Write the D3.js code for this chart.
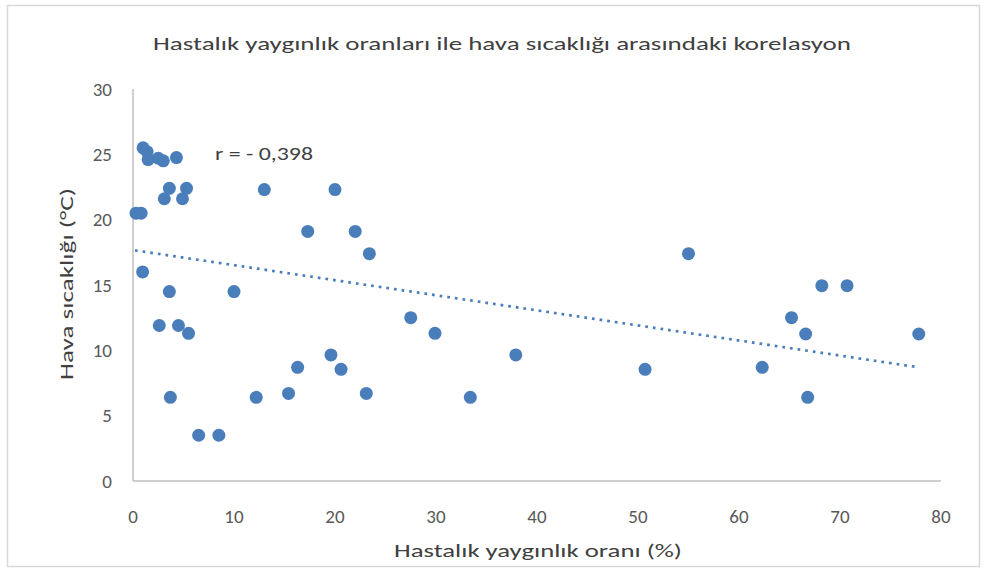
<!DOCTYPE html>
<html lang="tr">
<head>
    <meta charset="UTF-8">
    <title>Hastalık yaygınlık oranları ile hava sıcaklığı</title>
    <script src="https://d3js.org/d3.v7.min.js"></script>
    <style>
        body {
            margin: 0;
            background-color: #fff;
        }
        svg {
            display: block;
            font-family: Carlito, 'Open Sans', sans-serif;
        }
        .axis-line {
            stroke: #bfbfbf;
            stroke-width: 1.5;
        }
        .tick-label {
            font-size: 19px;
            fill: #595959;
        }
        .title, .axis-title, .r-label {
            fill: #404040;
        }
    </style>
</head>
<body>
    <svg width="984" height="572"></svg>

    <script>
        // hastalık yaygınlık oranı (%) ve hava sıcaklığı (°C)
        const prevalence = [
            0.3, 0.8, 1.0, 1.4, 1.5, 2.5, 3.0, 4.3, 3.6, 5.3, 3.1, 4.9,
            13.0, 20.0, 17.3, 22.0, 23.4, 0.95, 3.6, 10.0, 2.6, 4.5, 5.5,
            16.3, 3.7, 12.2, 15.4, 6.5, 8.5, 27.5, 29.9, 19.6, 20.6, 23.1,
            33.4, 37.9, 55.0, 68.2, 70.7, 65.2, 66.6, 77.8, 50.7, 62.3, 66.8
        ];
        const temperature = [
            20.5, 20.5, 25.5, 25.2, 24.6, 24.7, 24.5, 24.75, 22.4, 22.4, 21.6, 21.6,
            22.3, 22.3, 19.1, 19.1, 17.4, 16.0, 14.5, 14.5, 11.9, 11.9, 11.3,
            8.7, 6.4, 6.4, 6.7, 3.5, 3.5, 12.5, 11.3, 9.65, 8.55, 6.7,
            6.4, 9.65, 17.4, 14.95, 14.95, 12.5, 11.25, 11.25, 8.55, 8.7, 6.4
        ];
        // doğrusal eğilim çizgisi uçları
        const trendX = [0.2, 77.8];
        const trendY = [17.65, 8.7];
        const xTicks = [0, 10, 20, 30, 40, 50, 60, 70, 80];
        const yTicks = [0, 5, 10, 15, 20, 25, 30];
        const rText = "r = - 0,398";

        const points = prevalence.map((p, i) => ({ x: p, y: temperature[i] }));

        const svg = d3.select("svg");
        const color = "#4a7ebb";

        // çerçeve
        svg.append("rect")
            .attr("x", 7.5).attr("y", 5.5)
            .attr("width", 972).attr("height", 561)
            .attr("fill", "#fff")
            .attr("stroke", "#d9d9d9")
            .attr("stroke-width", 1.5);

        const x = d3.scaleLinear().domain([0, 80]).range([133, 941]);
        const y = d3.scaleLinear().domain([0, 30]).range([481, 89]);

        // eksenler
        svg.append("line").attr("class", "axis-line")
            .attr("x1", x(0)).attr("x2", x(0))
            .attr("y1", y(30)).attr("y2", y(0));
        svg.append("line").attr("class", "axis-line")
            .attr("x1", x(0)).attr("x2", x(80))
            .attr("y1", y(0)).attr("y2", y(0));

        svg.append("g").selectAll("text")
            .data(yTicks)
            .join("text")
            .attr("class", "tick-label")
            .attr("x", 112)
            .attr("y", d => y(d))
            .attr("dy", "0.35em")
            .attr("text-anchor", "end")
            .text(d => d);

        svg.append("g").selectAll("text")
            .data(xTicks)
            .join("text")
            .attr("class", "tick-label")
            .attr("x", d => x(d))
            .attr("y", 523)
            .attr("text-anchor", "middle")
            .text(d => d);

        svg.append("path")
            .datum(trendX.map((v, i) => [v, trendY[i]]))
            .attr("d", d3.line().x(d => x(d[0])).y(d => y(d[1])))
            .attr("fill", "none")
            .attr("stroke", color)
            .attr("stroke-width", 2.7)
            .attr("stroke-dasharray", "2.7,5");

        svg.append("g").selectAll("circle")
            .data(points)
            .join("circle")
            .attr("cx", d => x(d.x))
            .attr("cy", d => y(d.y))
            .attr("r", 6.5)
            .attr("fill", color);

        svg.append("text")
            .attr("class", "r-label")
            .attr("x", 215)
            .attr("y", 160)
            .attr("font-size", 19)
            .attr("textLength", 98)
            .attr("lengthAdjust", "spacingAndGlyphs")
            .text(rText);

        svg.append("text")
            .attr("class", "title")
            .attr("x", 502)
            .attr("y", 50)
            .attr("text-anchor", "middle")
            .attr("font-size", 18)
            .attr("textLength", 698)
            .attr("lengthAdjust", "spacingAndGlyphs")
            .text("Hastalık yaygınlık oranları ile hava sıcaklığı arasındaki korelasyon");

        svg.append("text")
            .attr("class", "axis-title")
            .attr("x", 538)
            .attr("y", 557)
            .attr("text-anchor", "middle")
            .attr("font-size", 18)
            .attr("textLength", 288)
            .attr("lengthAdjust", "spacingAndGlyphs")
            .text("Hastalık yaygınlık oranı (%)");

        svg.append("text")
            .attr("class", "axis-title")
            .attr("transform", "translate(73,284) rotate(-90)")
            .attr("text-anchor", "middle")
            .attr("font-size", 18)
            .attr("textLength", 192)
            .attr("lengthAdjust", "spacingAndGlyphs")
            .text("Hava sıcaklığı (°C)");
    </script>
</body>
</html>
